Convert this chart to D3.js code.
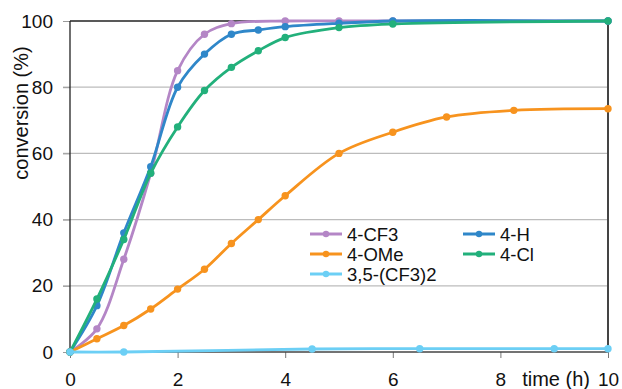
<!DOCTYPE html>
<html>
<head>
<meta charset="utf-8">
<script src="https://cdn.jsdelivr.net/npm/d3@7"></script>
<style>
  body { margin: 0; background: #fff; }
  svg { font-family: "Liberation Sans", Arial, sans-serif; }
</style>
</head>
<body>
<svg></svg>
<script>
// data
let seriesNames = ["4-CF3", "4-H", "4-OMe", "4-Cl", "3,5-(CF3)2"]

let cf3T = [0, 0.5, 1, 1.5, 2, 2.5, 3, 4, 5, 6, 10]
let cf3V = [0, 7, 28, 54, 85, 96, 99.2, 100, 100, 100, 100]

let hT = [0, 0.5, 1, 1.5, 2, 2.5, 3, 3.5, 4, 5, 6, 10]
let hV = [0, 14, 36, 56, 80, 90, 96, 97.3, 98.3, 99.3, 100, 100]

let omeT = [0, 0.5, 1, 1.5, 2, 2.5, 3, 3.5, 4, 5, 6, 7, 8.25, 10]
let omeV = [0, 4, 8, 13, 19, 25, 32.8, 40, 47.2, 60, 66.4, 71, 73, 73.5]

let clT = [0, 0.5, 1, 1.5, 2, 2.5, 3, 3.5, 4, 5, 6, 10]
let clV = [0, 16, 34, 54, 68, 79, 86, 91, 95, 98, 99.1, 100]

let bisT = [0, 1, 4.5, 6.5, 9, 10]
let bisV = [0, 0, 0.9, 1, 1, 1]

let xTicks = [0, 2, 4, 6, 8, 10]
let yTicks = [0, 20, 40, 60, 80, 100]

let colors = {
  "4-CF3": "#b486c6",
  "4-H": "#2f87c9",
  "4-OMe": "#f7931e",
  "4-Cl": "#22b07b",
  "3,5-(CF3)2": "#6ccff5"
}

let series = [
  {name: "4-CF3", t: cf3T, v: cf3V},
  {name: "4-H", t: hT, v: hV},
  {name: "4-OMe", t: omeT, v: omeV},
  {name: "4-Cl", t: clT, v: clV},
  {name: "3,5-(CF3)2", t: bisT, v: bisV}
]

let width = 622
let height = 389
let plotLeft = 70, plotRight = 608, plotTop = 21, plotBottom = 352

let svg = d3.select('svg')
  .attr('width', width)
  .attr('height', height)

let xScale = d3.scaleLinear().domain([0, 10]).range([plotLeft, plotRight])
let yScale = d3.scaleLinear().domain([0, 100]).range([plotBottom, plotTop])

// grid lines
svg.append('g')
  .selectAll('line')
  .data(yTicks.filter(d => d > 0 && d < 100))
  .enter()
  .append('line')
  .attr('x1', plotLeft - 7)
  .attr('x2', plotRight)
  .attr('y1', d => yScale(d))
  .attr('y2', d => yScale(d))
  .attr('stroke', '#bcbcbc')
  .attr('stroke-width', 1.2)

// y axis
let yAxis = d3.axisLeft(yScale).tickValues(yTicks).tickSize(7).tickPadding(10)
let gy = svg.append('g')
  .attr('transform', 'translate(' + plotLeft + ',0)')
  .call(yAxis)
gy.select('.domain').remove()
gy.selectAll('.tick line').attr('stroke', '#9a9a9a')
gy.selectAll('text').attr('font-size', 19).attr('fill', '#111')

// x axis
let xAxis = d3.axisBottom(xScale).tickValues(xTicks).tickSize(6).tickPadding(15)
let gx = svg.append('g')
  .attr('transform', 'translate(0,' + plotBottom + ')')
  .call(xAxis)
gx.select('.domain').remove()
gx.selectAll('.tick line').attr('stroke', '#777')
gx.selectAll('text').attr('font-size', 19).attr('fill', '#111')

// frame
svg.append('line').attr('x1', plotLeft).attr('x2', plotLeft).attr('y1', plotTop).attr('y2', plotBottom)
  .attr('stroke', '#222').attr('stroke-width', 1.3)
svg.append('line').attr('x1', plotLeft).attr('x2', plotRight).attr('y1', plotTop).attr('y2', plotTop)
  .attr('stroke', '#222').attr('stroke-width', 1.3)
svg.append('line').attr('x1', plotRight).attr('x2', plotRight).attr('y1', plotTop).attr('y2', plotBottom)
  .attr('stroke', '#444').attr('stroke-width', 2)
svg.append('line').attr('x1', plotLeft).attr('x2', plotRight).attr('y1', plotBottom).attr('y2', plotBottom)
  .attr('stroke', '#444').attr('stroke-width', 1.3)

// curves
let line = d3.line()
  .x(d => xScale(d[0]))
  .y(d => yScale(d[1]))
  .curve(d3.curveCatmullRom.alpha(0.5))

series.forEach(s => {
  let pts = s.t.map((t, i) => [t, s.v[i]])
  svg.append('path')
    .datum(pts)
    .attr('d', line)
    .attr('fill', 'none')
    .attr('stroke', colors[s.name])
    .attr('stroke-width', 2.8)
  svg.append('g')
    .selectAll('circle')
    .data(pts)
    .enter()
    .append('circle')
    .attr('cx', d => xScale(d[0]))
    .attr('cy', d => yScale(d[1]))
    .attr('r', 3.7)
    .attr('fill', colors[s.name])
})

// legend
let legendPos = {
  "4-CF3": [310, 234],
  "4-OMe": [310, 254],
  "3,5-(CF3)2": [310, 274],
  "4-H": [463, 234],
  "4-Cl": [463, 254]
}
seriesNames.forEach(name => {
  let p = legendPos[name]
  let g = svg.append('g').attr('transform', 'translate(' + p[0] + ',' + p[1] + ')')
  g.append('line').attr('x1', 0).attr('x2', 32).attr('y1', 0).attr('y2', 0)
    .attr('stroke', colors[name]).attr('stroke-width', 3)
  g.append('circle').attr('cx', 16).attr('cy', 0).attr('r', 3.2).attr('fill', colors[name])
  g.append('text').attr('x', 37).attr('y', 6.5).attr('font-size', 18.5).attr('fill', '#111').text(name)
})

// axis titles
svg.append('text')
  .attr('transform', 'translate(28,113) rotate(-90)')
  .attr('text-anchor', 'middle')
  .attr('font-size', 20)
  .attr('fill', '#111')
  .text('conversion (%)')

svg.append('text')
  .attr('x', 590)
  .attr('y', 386)
  .attr('text-anchor', 'end')
  .attr('font-size', 20)
  .attr('fill', '#111')
  .text('time (h)')
</script>
</body>
</html>
